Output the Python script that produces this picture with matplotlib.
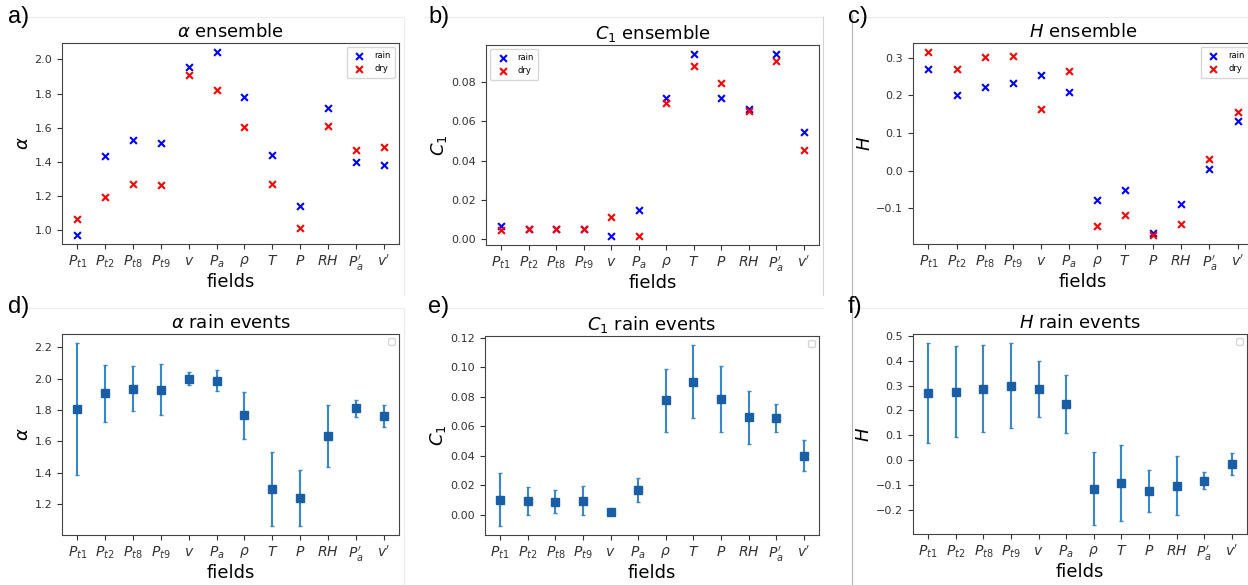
import numpy as np
import matplotlib
matplotlib.use("Agg")
import matplotlib.pyplot as plt
from matplotlib.lines import Line2D

# field names on the x axis
fields = [r'$P_{t1}$', r'$P_{t2}$', r'$P_{t8}$', r'$P_{t9}$', r'$v$', r'$P_a$',
          r'$\rho$', r'$T$', r'$P$', r'$RH$', r"$P_a'$", r"$v'$"]

# ensemble values (top row)
alpha_rain = [0.97, 1.434, 1.527, 1.509, 1.957, 2.043, 1.782, 1.438, 1.138, 1.715, 1.399, 1.383]
alpha_dry = [1.063, 1.193, 1.269, 1.263, 1.906, 1.819, 1.601, 1.269, 1.008, 1.607, 1.466, 1.487]

c1_rain = [0.0068, 0.0054, 0.0050, 0.0054, 0.0017, 0.0149, 0.0720, 0.0939, 0.0719, 0.0663, 0.0941, 0.0546]
c1_dry = [0.0049, 0.0054, 0.0054, 0.0054, 0.0112, 0.0017, 0.0693, 0.0881, 0.0793, 0.0653, 0.0905, 0.0456]

h_rain = [0.271, 0.201, 0.221, 0.234, 0.254, 0.209, -0.079, -0.051, -0.165, -0.089, 0.003, 0.132]
h_dry = [0.315, 0.271, 0.301, 0.305, 0.164, 0.265, -0.148, -0.118, -0.171, -0.141, 0.032, 0.156]

# rain events, mean and error (bottom row)
alpha_ev = [1.806, 1.906, 1.936, 1.930, 2.000, 1.987, 1.766, 1.298, 1.240, 1.634, 1.811, 1.760]
alpha_err = [0.419, 0.181, 0.145, 0.160, 0.041, 0.065, 0.150, 0.233, 0.177, 0.195, 0.055, 0.070]

c1_ev = [0.0101, 0.0094, 0.0088, 0.0094, 0.0020, 0.0164, 0.0775, 0.0901, 0.0782, 0.0658, 0.0654, 0.0400]
c1_err = [0.0178, 0.0094, 0.0080, 0.0097, 0.0005, 0.0082, 0.0213, 0.0248, 0.0224, 0.0179, 0.0096, 0.0107]

h_ev = [0.270, 0.276, 0.288, 0.300, 0.285, 0.225, -0.115, -0.092, -0.125, -0.103, -0.084, -0.015]
h_err = [0.201, 0.183, 0.174, 0.170, 0.112, 0.117, 0.146, 0.152, 0.086, 0.120, 0.034, 0.045]

W, H = 1248, 585
fig = plt.figure(figsize=(W / 100, H / 100), dpi=100)


def box(l, r, t, b):
    return [l / W, 1 - b / H, (r - l) / W, (b - t) / H]


def style(ax, title, ylab):
    x = np.arange(len(fields))
    ax.set_xticks(x)
    ax.set_xticklabels(fields, fontsize=10)
    ax.tick_params(axis='y', labelsize=8, colors='#333333')
    ax.tick_params(axis='x', colors='#333333')
    ax.set_title(title, fontsize=13, pad=4)
    ax.set_ylabel(ylab, fontsize=13, labelpad=2)
    ax.set_xlabel('fields', fontsize=13, labelpad=0)
    for s in ax.spines.values():
        s.set_color('#444444')


def ensemble(ax, rain, dry, title, ylab, loc):
    x = np.arange(len(fields))
    ax.scatter(x, rain, marker='x', c='b', s=24, linewidths=1.5, label='rain')
    ax.scatter(x, dry, marker='x', c='r', s=24, linewidths=1.5, label='dry')
    ax.legend(loc=loc, fontsize=6, handletextpad=0.8, borderpad=0.5)
    style(ax, title, ylab)


def events(ax, mean, err, title, ylab):
    x = np.arange(len(fields))
    ax.errorbar(x, mean, yerr=err, fmt='s', color='#1f6fb4', mfc='#1a5fa6', mec='#1a5fa6',
                markersize=5.5, capsize=1.4, elinewidth=1.5, capthick=1.0, ecolor='#3a86c8')
    ax.legend(handles=[], loc='upper right', fontsize=6)
    style(ax, title, ylab)


ax_a = fig.add_axes(box(62, 399, 43, 244))
ensemble(ax_a, alpha_rain, alpha_dry, r'$\alpha$ ensemble', r'$\alpha$', 'upper right')
ax_b = fig.add_axes(box(486, 819, 45, 245))
ensemble(ax_b, c1_rain, c1_dry, r'$C_1$ ensemble', r'$C_1$', 'upper left')
ax_b.set_yticks([0.0, 0.02, 0.04, 0.06, 0.08])
ax_c = fig.add_axes(box(913, 1253, 43, 244))
ensemble(ax_c, h_rain, h_dry, r'$H$ ensemble', r'$H$', 'upper right')

ax_d = fig.add_axes(box(62, 399, 334, 535))
events(ax_d, alpha_ev, alpha_err, r'$\alpha$ rain events', r'$\alpha$')
ax_e = fig.add_axes(box(485, 819, 336, 535))
events(ax_e, c1_ev, c1_err, r'$C_1$ rain events', r'$C_1$')
ax_f = fig.add_axes(box(913, 1247, 334, 534))
events(ax_f, h_ev, h_err, r'$H$ rain events', r'$H$')

# panel letters
for lab, px, py in [('a)', 8, 6), ('b)', 428, 6), ('c)', 848, 6),
                    ('d)', 8, 296), ('e)', 428, 296), ('f)', 848, 296)]:
    fig.text(px / W, 1 - py / H, lab, fontsize=17, family='Liberation Sans', va='top', ha='left')

# faint screenshot frames
def pline(x0, y0, x1, y1, c):
    fig.add_artist(Line2D([x0 / W, x1 / W], [1 - y0 / H, 1 - y1 / H], color=c, lw=0.8))

pline(10, 17, 404, 17, '#ececec')
pline(404, 17, 404, 295, '#ececec')
pline(425, 17, 823, 17, '#ececec')
pline(823, 17, 823, 295, '#d4d4d4')
pline(852, 17, 1248, 17, '#ececec')
pline(852, 15, 852, 295, '#b4b4b4')
pline(10, 308, 404, 308, '#ececec')
pline(404, 308, 404, 585, '#ececec')
pline(425, 308, 823, 308, '#ececec')
pline(852, 308, 1248, 308, '#ececec')
pline(852, 308, 852, 585, '#b4b4b4')

fig.savefig('out.png', dpi=100)
